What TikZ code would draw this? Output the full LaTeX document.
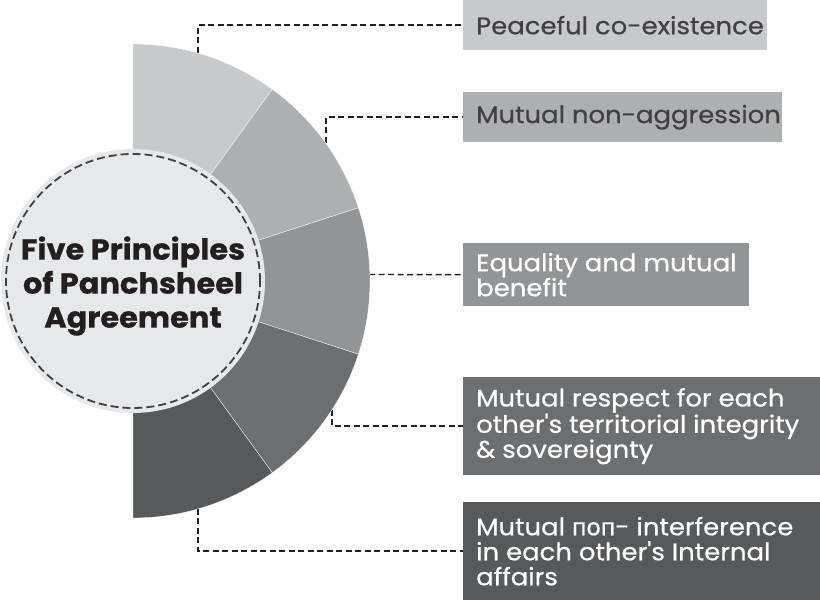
\documentclass[tikz,border=0pt]{standalone}
\usepackage{fontspec}
\setmainfont{Poppins}[FakeStretch=1.08, FakeBold=0.6, Ligatures=TeXOff]
\newfontfamily\titlefont{Poppins}[FakeStretch=1.05, FakeBold=0.8]
\newfontfamily\cyrfont{Noto Sans}[FakeBold=0.6]
\definecolor{c1}{HTML}{C8C9CB}
\definecolor{c2}{HTML}{AEAFB1}
\definecolor{c3}{HTML}{939496}
\definecolor{c4}{HTML}{6D6E70}
\definecolor{c5}{HTML}{58595B}
\definecolor{diskclr}{HTML}{E7E8E9}
\definecolor{txtdark}{HTML}{414042}
\definecolor{titleclr}{HTML}{231F20}
\definecolor{lineclr}{HTML}{231F20}
\begin{document}
\begin{tikzpicture}[x=1pt,y=1pt,
  seg/.style={draw=white, line width=0.3pt},
  boxnode/.style={inner sep=0pt, anchor=north west, draw=none},
  conn/.style={draw=lineclr, line width=1.4pt, dash pattern=on 6pt off 3.5pt},
  boxtxt/.style={anchor=west, align=left, inner sep=0pt, font=\fontsize{24}{25}\selectfont},
  titletxt/.style={align=center, inner sep=0pt, text=titleclr, font=\titlefont\fontsize{29}{34}\selectfont\bfseries},
]
\useasboundingbox (0,0) rectangle (820,600);
\coordinate (C) at (133,319);

% boxes
\node[boxnode, fill=c1, minimum width=304pt, minimum height=50pt] (b1) at (463,600) {};
\node[boxnode, fill=c2, minimum width=319pt, minimum height=50pt] (b2) at (463,508) {};
\node[boxnode, fill=c3, minimum width=286pt, minimum height=63pt] (b3) at (463,357) {};
\node[boxnode, fill=c4, minimum width=357pt, minimum height=98pt] (b4) at (463,223) {};
\node[boxnode, fill=c5, minimum width=357pt, minimum height=98pt] (b5) at (463,98) {};

\node[boxtxt, text=txtdark] (t1) at ([xshift=13pt]b1.west) {Peaceful co-existence};
\node[boxtxt, text=txtdark] (t2) at ([xshift=13pt]b2.west) {Mutual non-aggression};
\node[boxtxt, text=white] (t3) at ([xshift=13pt]b3.west) {Equality and mutual\\benefit};
\node[boxtxt, text=white] (t4) at ([xshift=13pt]b4.west) {Mutual respect for each\\other's territorial integrity\\\& sovereignty};
\node[boxtxt, text=white] (t5) at ([xshift=13pt]b5.west) {Mutual {\cyrfont поп}- interference\\in each other's Internal\\affairs};

% connectors
\coordinate (p1) at (198,547);
\coordinate (p2) at (326,457);
\coordinate (p3) at (369,325.5);
\coordinate (p4) at (332,190);
\coordinate (p5) at (198,91);
\draw[conn] (p1) |- (b1.west);
\draw[conn] (p2) |- (b2.west);
\draw[conn] (p3) -- (b3.west);
\draw[conn] (p4) |- (b4.west);
\draw[conn] (p5) |- (b5.west);

% ring sectors
\filldraw[fill=c1, seg] (C) -- ++(90:237) arc[start angle=90, end angle=54, radius=237] -- cycle;
\filldraw[fill=c2, seg] (C) -- ++(54:237) arc[start angle=54, end angle=18, radius=237] -- cycle;
\filldraw[fill=c3, seg] (C) -- ++(18:237) arc[start angle=18, end angle=-18, radius=237] -- cycle;
\filldraw[fill=c4, seg] (C) -- ++(-18:237) arc[start angle=-18, end angle=-54, radius=237] -- cycle;
\filldraw[fill=c5, seg] (C) -- ++(-54:237) arc[start angle=-54, end angle=-90, radius=237] -- cycle;

% central disk
\node[circle, fill=diskclr, minimum size=264pt, inner sep=0pt] (disk) at (C) {};
\draw[draw=txtdark, line width=1.8pt, dash pattern=on 8pt off 4pt] (C) circle[radius=127];
\node[titletxt] (title) at (133,314) {Five Principles\\of Panchsheel\\Agreement};
\end{tikzpicture}
\end{document}
